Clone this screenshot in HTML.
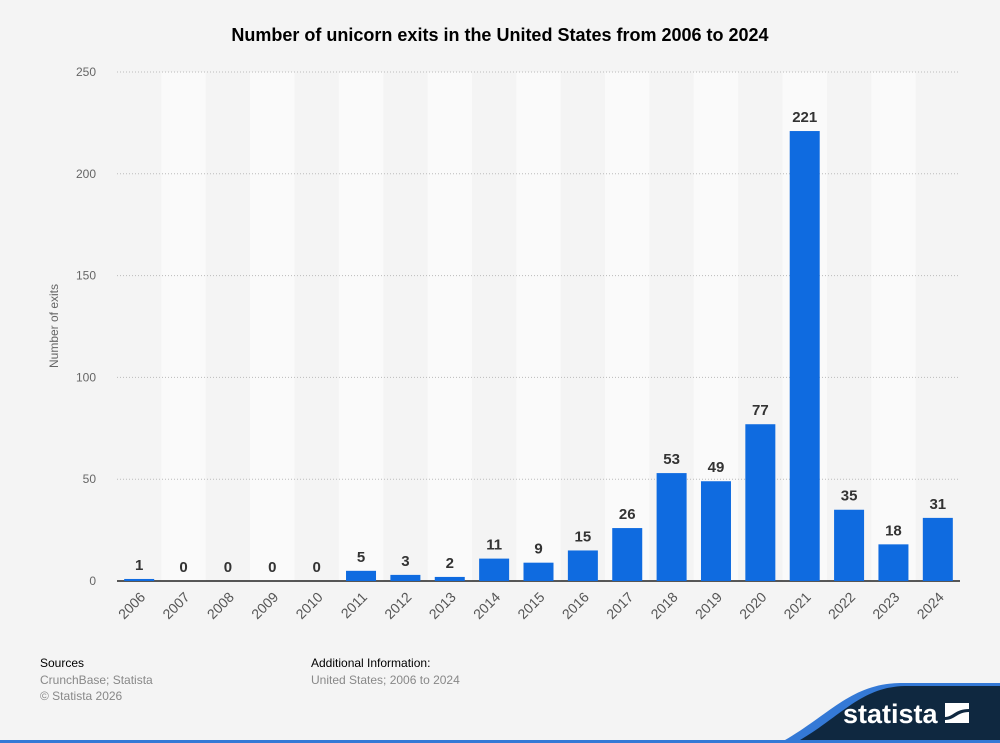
<!DOCTYPE html>
<html><head><meta charset="utf-8">
<style>
body{margin:0;background:#f4f4f4;font-family:"Liberation Sans",Arial,sans-serif;}
#wrap{position:relative;width:1000px;height:743px;overflow:hidden;background:#f4f4f4;}
</style></head>
<body>
<div id="wrap">
<svg id="chart" width="1000" height="743" xmlns="http://www.w3.org/2000/svg">
<text x="500" y="41" text-anchor="middle" font-size="18" font-weight="bold" fill="#000">Number of unicorn exits in the United States from 2006 to 2024</text>
<g id="bands"></g>
<g id="grid"></g>
<g id="bars"></g>
<g id="labels"></g>
<g id="xticks"></g>
<text transform="translate(58,326) rotate(-90)" text-anchor="middle" font-size="12" fill="#666">Number of exits</text>
<text x="40" y="667" font-size="12" fill="#000">Sources</text>
<text x="40" y="684" font-size="12" fill="#888">CrunchBase; Statista</text>
<text x="40" y="700" font-size="12" fill="#888">© Statista 2026</text>
<text x="311" y="667" font-size="12" fill="#000">Additional Information:</text>
<text x="311" y="684" font-size="12" fill="#888">United States; 2006 to 2024</text>
<g>
<path d="M780,743 C830,715 850,684 900,683 L1000,683 L1000,743 Z" fill="#3479d6"/>
<path d="M795,743 C840,718 860,687 905,686 L1000,686 L1000,743 Z" fill="#0f2840"/>
<rect x="0" y="740" width="1000" height="3" fill="#3479d6"/>
<text x="843" y="723" font-size="27" font-weight="bold" fill="#fff">statista</text>
<rect x="945" y="703" width="24" height="20" fill="#fff"/>
<path d="M945,717 C953,717 955,709 969,709 L969,712 C957,712 955,720 945,720 Z" fill="#0f2840"/>
</g>
</svg>
</div>
<script>
const categories=["2006","2007","2008","2009","2010","2011","2012","2013","2014","2015","2016","2017","2018","2019","2020","2021","2022","2023","2024"];
const values=[1,0,0,0,0,5,3,2,11,9,15,26,53,49,77,221,35,18,31];
const yTicks=[0,50,100,150,200,250];
const NS="http://www.w3.org/2000/svg";
const x0=117,x1=960,y0=581,y1=72,yMax=250;
const bw=(x1-x0)/categories.length;
function xScale(i){return x0+bw*i;}
function yScale(v){return y0-(v/yMax)*(y0-y1);}
function mk(tag,attrs,parent,txt){const e=document.createElementNS(NS,tag);for(const k in attrs)e.setAttribute(k,attrs[k]);if(txt!==undefined)e.textContent=txt;document.getElementById(parent).appendChild(e);return e;}
categories.forEach((c,i)=>{
  if(i%2===1){const b=mk('rect',{x:xScale(i),y:y1,width:bw,height:y0-y1,fill:'#fafafa'},'bands');
  
  }
});
yTicks.forEach(t=>{
  const y=yScale(t);
  if(t>0){const l=mk('line',{x1:x0,x2:x1,y1:y,y2:y,stroke:'#bbb','stroke-dasharray':'1,2'},'grid');
  
  }
  const tx=mk('text',{x:96,y:y+4,'text-anchor':'end','font-size':12,fill:'#666'},'grid',t);
  
  
});
const ax=mk('line',{x1:x0,x2:x1,y1:y0,y2:y0,stroke:'#222','stroke-width':1.5},'grid');


values.forEach((v,i)=>{
  const cx=xScale(i)+bw/2;
  const y=yScale(v);
  const r=mk('rect',{x:cx-15,y:y,width:30,height:y0-y,fill:'#0f6be0'},'bars');
  
  
  const lb=mk('text',{x:cx,y:Math.min(y,y0)-9,'text-anchor':'middle','font-size':15,'font-weight':'bold',fill:'#333'},'labels',v);
  
  
  const tk=mk('text',{transform:`translate(${cx+7},${y0+17}) rotate(-45)`,'text-anchor':'end','font-size':14,fill:'#555'},'xticks',categories[i]);
  
  
});
</script>
</body></html>
